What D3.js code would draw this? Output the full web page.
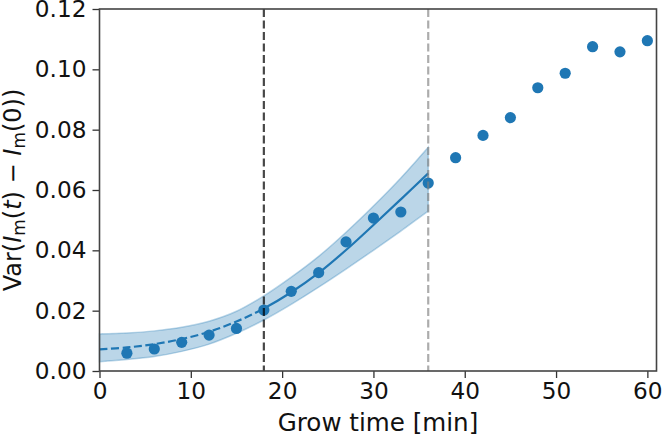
<!DOCTYPE html>
<html><head><meta charset="utf-8">
<script src="https://cdn.jsdelivr.net/npm/d3@7"></script>
<style>body{margin:0;background:#fff}text{font-family:"DejaVu Sans",sans-serif}</style>
</head><body>
<svg id="c" width="662" height="436"></svg>
<script>
// Data
const growTime = [3,6,9,12,15,18,21,24,27,30,33,36,39,42,45,48,51,54,57,60];
const variance = [0.0059,0.0073,0.0095,0.0119,0.0141,0.0202,0.0264,0.0326,0.0428,0.0507,0.0527,0.0623,0.0707,0.0781,0.0840,0.0939,0.0987,0.1075,0.1058,0.1095];
const fitTime  = [0,3,6,9,12,15,18,21,24,27,30,33,36];
const fitValue = [0.0072,0.0078,0.0089,0.0106,0.0130,0.0164,0.0207,0.0261,0.0325,0.0401,0.0484,0.0569,0.0655];
const fitUpper = [0.0123,0.0126,0.0133,0.0145,0.0165,0.0198,0.0249,0.0311,0.0380,0.0460,0.0547,0.0640,0.0742];
const fitLower = [0.0031,0.0038,0.0048,0.0065,0.0089,0.0125,0.0169,0.0221,0.0278,0.0338,0.0400,0.0464,0.0530];
const fitSplit = 18;      // dashed before, solid after
const vlines = [18, 36];
const xTicks = [0,10,20,30,40,50,60];
const yTicks = [0,0.02,0.04,0.06,0.08,0.10,0.12];

const blue = "#1f77b4";
const svg = d3.select("#c");
const L = 99.5, R = 656.5, T = 9, B = 371;
const x = d3.scaleLinear().domain([0,61]).range([L,R]);
const y = d3.scaleLinear().domain([0,0.12]).range([B,T]);

const fit = fitTime.map((t,i)=>({t, v:fitValue[i], hi:fitUpper[i], lo:fitLower[i]}));
const curve = d3.curveCatmullRom.alpha(0.5);

const defs = svg.append("defs");
defs.append("clipPath").attr("id","cl").append("rect")
  .attr("x",0).attr("y",0).attr("width",x(fitSplit)).attr("height",436);
defs.append("clipPath").attr("id","cr").append("rect")
  .attr("x",x(fitSplit)).attr("y",0).attr("width",662-x(fitSplit)).attr("height",436);

// band
svg.append("path").datum(fit)
  .attr("d", d3.area().x(d=>x(d.t)).y0(d=>y(d.lo)).y1(d=>y(d.hi)).curve(curve))
  .attr("fill", blue).attr("fill-opacity",0.3)
  .attr("stroke", blue).attr("stroke-opacity",0.3).attr("stroke-width",1.5);

// fit line: dashed before split, solid after
const line = d3.line().x(d=>x(d.t)).y(d=>y(d.v)).curve(curve);
svg.append("path").datum(fit).attr("clip-path","url(#cl)")
  .attr("d", line).attr("fill","none").attr("stroke",blue).attr("stroke-width",2.2)
  .attr("stroke-dasharray","8,3.5");
svg.append("path").datum(fit).attr("clip-path","url(#cr)")
  .attr("d", line).attr("fill","none").attr("stroke",blue).attr("stroke-width",2.2);

// points
svg.selectAll(".pt").data(growTime).enter().append("circle")
  .attr("cx",d=>x(d)).attr("cy",(d,i)=>y(variance[i])).attr("r",5.6).attr("fill",blue);

// vertical lines (drawn above points)
svg.selectAll(".vl").data(vlines).enter().append("line")
  .attr("x1",d=>x(d)).attr("x2",d=>x(d)).attr("y1",T).attr("y2",B)
  .attr("stroke",(d,i)=>i===0?"#000":"#808080").attr("stroke-opacity",(d,i)=>i===0?0.72:0.65)
  .attr("stroke-width",2.2).attr("stroke-dasharray","8,3.5");

// axes
const xa = svg.append("g").attr("transform",`translate(0,${B})`)
  .call(d3.axisBottom(x).tickValues(xTicks).tickFormat(d3.format("d")).tickSize(7).tickPadding(5));
const ya = svg.append("g").attr("transform",`translate(${L},0)`)
  .call(d3.axisLeft(y).tickValues(yTicks).tickFormat(d3.format(".2f")).tickSize(7).tickPadding(6));
[xa,ya].forEach(g=>{
  g.select(".domain").remove();
  g.selectAll(".tick line").attr("stroke","#333").attr("stroke-width",1.3);
  g.selectAll(".tick text").attr("font-size",23.2).attr("fill","#111").attr("font-family","DejaVu Sans");
});
// frame
svg.append("rect").attr("x",L).attr("y",T).attr("width",R-L).attr("height",B-T)
  .attr("fill","none").attr("stroke","#444").attr("stroke-width",1.6);

// labels
svg.append("text").attr("x",(L+R)/2).attr("y",431).attr("text-anchor","middle")
  .attr("font-size",24.6).attr("fill","#111").text("Grow time [min]");

const yl = svg.append("text").attr("transform",`translate(21,${(T+B)/2}) rotate(-90)`)
  .attr("text-anchor","middle").attr("font-size",24).attr("fill","#111");
const parts = [["Var(",null],["I","i"],["m","s"],["(",null],["t","i"],[") − ",null],["I","i"],["m","s"],["(0))",null]];
parts.forEach(([s,k],i)=>{
  const ts = yl.append("tspan").text(s);
  if(k==="i") ts.attr("font-style","italic");
  if(k==="s") ts.attr("font-size",17).attr("dy",4);
  if(i>0 && parts[i-1][1]==="s") ts.attr("dy",-4);
});
</script>
</body></html>
